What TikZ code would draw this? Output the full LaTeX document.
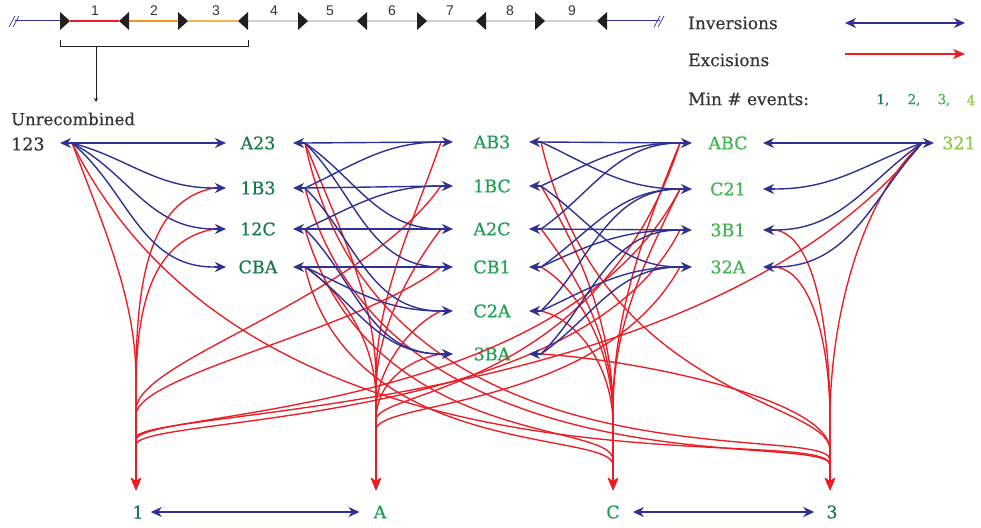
\documentclass[tikz,border=0pt]{standalone}
\usepackage{fontspec}
\setmainfont{DejaVu Serif}
\newfontfamily\labfont[FakeBold=0.35]{DejaVu Serif}
\newfontfamily\stripfont{Liberation Sans}
\usetikzlibrary{arrows.meta}
\definecolor{invblue}{HTML}{2E3192}
\definecolor{excred}{HTML}{ED1C24}
\definecolor{gA}{HTML}{16794A}
\definecolor{gB}{HTML}{1E9E52}
\definecolor{gC}{HTML}{3DB54A}
\definecolor{gD}{HTML}{8DC63F}
\definecolor{ink}{HTML}{333333}
\definecolor{segone}{HTML}{ED1C24}
\definecolor{segtwo}{HTML}{F7941D}
\definecolor{segthree}{HTML}{FBB040}
\definecolor{seggray}{HTML}{D0D0D0}
\definecolor{sitecol}{HTML}{231F20}
\newcommand\mk[7]{%
  \node[lab,text=#5] (#1) at (#2,#3) {#4};
  \coordinate (#1w) at (#6,#3);
  \coordinate (#1wb) at (#6-12,#3);
  \coordinate (#1e) at (#7,#3);
  \coordinate (#1eb) at (#7+12,#3);}
\newcommand\rsite[1]{\fill[sitecol] (#1,12) -- (#1+10,21) -- (#1,30) -- cycle;}
\newcommand\lsite[1]{\fill[sitecol] (#1+10,12) -- (#1,21) -- (#1+10,30) -- cycle;}
% excision: start, c1, x of target, y of c2, y of stem start, target
\newcommand\exc[6]{\draw[ex] (#1) .. controls (#2) and (#3,#4) .. (#3,#5) -- (#6);}
\begin{document}
\begin{tikzpicture}[x=1pt,y=-1pt,
  lab/.style={font=\labfont\fontsize{17.5}{19}\selectfont, inner sep=0pt},
  txt/.style={font=\labfont\fontsize{16.5}{18}\selectfont, inner sep=0pt, text=ink},
  num/.style={font=\stripfont\fontsize{14}{15}\selectfont, inner sep=0pt, text=ink},
  iv/.style={draw=invblue, line width=1.4pt},
  ivtip/.style={draw=invblue, line width=1.4pt, -{Stealth[length=11pt,width=10pt,inset=3.5pt]}},
  ivboth/.style={draw=invblue, line width=1.4pt, {Stealth[length=11pt,width=10pt,inset=3.5pt]}-{Stealth[length=11pt,width=10pt,inset=3.5pt]}},
  ex/.style={draw=excred, line width=1.35pt, -{Stealth[length=12pt,width=10pt,inset=3.5pt]}},
  seg/.style={line width=1.2pt}]
\useasboundingbox (0,0) rectangle (981,527);

% ---------- top strip ----------
\draw[invblue, line width=1pt] (15,21) -- (60,21);
\draw[invblue, line width=0.7pt] (9,27) -- (15,16) (13,27) -- (19,16);
\draw[seg, segone] (70,21) -- (119,21);
\draw[seg, segtwo] (129,21) -- (178,21);
\draw[seg, segthree] (188,21) -- (238,21);
\draw[seg, seggray] (248,21) -- (597,21);
\draw[invblue, line width=1pt] (607,21) -- (660,21);
\draw[invblue, line width=0.7pt] (654,27) -- (660,16) (658,27) -- (664,16);
\rsite{60}\lsite{119}\rsite{178}\lsite{238}\rsite{298}
\lsite{357}\rsite{417}\lsite{476}\rsite{535}\lsite{597}
\node[num] at (95,11) {1};
\node[num] at (154,11) {2};
\node[num] at (216,11) {3};
\node[num] at (274,11) {4};
\node[num] at (330,11) {5};
\node[num] at (392,11) {6};
\node[num] at (450,11) {7};
\node[num] at (510,11) {8};
\node[num] at (572,11) {9};
\draw[sitecol, line width=1pt] (60,40) -- (60,47) -- (248,47) -- (248,40);
\coordinate (brk) at (96,47);
\coordinate (brkend) at (96,102);
\draw[sitecol, line width=0.8pt, -{Stealth[length=4pt,width=4pt]}] (brk) -- (brkend);

% ---------- legend ----------
\node[txt, anchor=west, font=\labfont\fontsize{17}{18}\selectfont] (lginv) at (688,23) {Inversions};
\node[txt, anchor=west, font=\labfont\fontsize{17}{18}\selectfont] (lgexc) at (688,60) {Excisions};
\node[txt, anchor=west, font=\labfont\fontsize{17}{18}\selectfont] (lgmin) at (688,99) {Min \# events:};
\coordinate (lgia) at (845,23); \coordinate (lgib) at (965,23);
\coordinate (lgea) at (845,54); \coordinate (lgeb) at (965,54);
\draw[ivboth] (lgia) -- (lgib);
\draw[ex] (lgea) -- (lgeb);
\node[inner sep=0pt, font=\labfont\fontsize{13.5}{15}\selectfont, text=gA] (lg1) at (883,100) {1,};
\node[inner sep=0pt, font=\labfont\fontsize{13.5}{15}\selectfont, text=gB] (lg2) at (914,100) {2,};
\node[inner sep=0pt, font=\labfont\fontsize{13.5}{15}\selectfont, text=gC] (lg3) at (944,100) {3,};
\node[inner sep=0pt, font=\labfont\fontsize{13.5}{15}\selectfont, text=gD] (lg4) at (971,100) {4};

% ---------- nodes ----------
\node[txt, anchor=west] (unrec) at (11,119) {Unrecombined};
\node[txt, anchor=west, font=\labfont\fontsize{17.5}{19}\selectfont] (n123) at (11,144) {123};
\coordinate (n123t) at (60,143);
\coordinate (n123b) at (72,143);

\mk{nA23}{258}{143}{A23}{gA}{226}{293}
\mk{n1B3}{258}{188}{1B3}{gA}{226}{293}
\mk{n12C}{258}{229}{12C}{gA}{226}{293}
\mk{nCBA}{258}{267}{CBA}{gA}{226}{293}

\mk{nAB3}{492}{142}{AB3}{gB}{453}{529}
\mk{n1BC}{492}{186}{1BC}{gB}{453}{529}
\mk{nA2C}{492}{229}{A2C}{gB}{453}{529}
\mk{nCB1}{492}{267}{CB1}{gB}{453}{529}
\mk{nC2A}{492}{311}{C2A}{gB}{453}{529}
\mk{n3BA}{492}{354}{3BA}{gB}{453}{529}

\mk{nABC}{728}{143}{ABC}{gC}{692}{763}
\mk{nC21}{728}{189}{C21}{gC}{692}{763}
\mk{n3B1}{728}{230}{3B1}{gC}{692}{763}
\mk{n32A}{728}{267}{32A}{gC}{692}{763}

\node[lab, text=gD] (n321) at (959,143) {321};
\coordinate (n321t) at (934,143);
\coordinate (n321b) at (922,143);

\node[lab, text=gA] (n1) at (138,512) {1};
\node[lab, text=gB] (nA) at (380,512) {A};
\node[lab, text=gB] (nC) at (613,512) {C};
\node[lab, text=gA] (n3) at (832,512) {3};
\coordinate (t1) at (136,490);
\coordinate (tA) at (376,490);
\coordinate (tC) at (613,490);
\coordinate (t3) at (830,490);

% ---------- excisions ----------
% into 1
\exc{n123b}{105,230}{136}{300}{380}{t1}
\exc{n1B3wb}{150,200}{136}{280}{380}{t1}
\exc{n12Cwb}{155,240}{136}{300}{390}{t1}
\exc{n1BCwb}{360,300}{136}{360}{410}{t1}
\exc{nCB1wb}{360,330}{136}{375}{415}{t1}
\exc{nC21wb}{560,420}{136}{410}{440}{t1}
\exc{n3B1wb}{580,430}{136}{415}{445}{t1}
\exc{n321b}{700,420}{136}{408}{438}{t1}
% into A
\exc{nA23eb}{340,230}{376}{300}{380}{tA}
\exc{nCBAeb}{340,290}{376}{340}{400}{tA}
\exc{nAB3wb}{410,230}{376}{300}{380}{tA}
\exc{nA2Cwb}{410,270}{376}{330}{390}{tA}
\exc{nC2Awb}{410,325}{376}{370}{410}{tA}
\exc{n3BAwb}{405,360}{376}{385}{420}{tA}
\exc{nABCwb}{600,390}{376}{390}{420}{tA}
\exc{n32Awb}{600,410}{376}{400}{430}{tA}
% into C
\exc{n12Ceb}{370,450}{613}{420}{460}{tC}
\exc{nCBAeb}{350,460}{613}{430}{465}{tC}
\exc{n1BCeb}{580,250}{613}{330}{410}{tC}
\exc{nA2Ceb}{580,280}{613}{340}{415}{tC}
\exc{nCB1eb}{580,290}{613}{350}{420}{tC}
\exc{nC2Aeb}{580,320}{613}{370}{425}{tC}
\exc{nABCwb}{640,240}{613}{320}{410}{tC}
\exc{nC21wb}{640,270}{613}{330}{410}{tC}
% into 3
\exc{n123b}{260,520}{830}{420}{465}{t3}
\exc{nA23eb}{380,500}{830}{420}{460}{t3}
\exc{n1B3eb}{390,500}{830}{430}{465}{t3}
\exc{nAB3eb}{600,400}{830}{400}{450}{t3}
\exc{n3BAeb}{640,360}{830}{400}{450}{t3}
\exc{n3B1eb}{815,235}{830}{330}{420}{t3}
\exc{n32Aeb}{810,270}{830}{340}{420}{t3}
\exc{n321b}{860,200}{830}{320}{420}{t3}

% ---------- inversions ----------
\draw[iv] (n123b) -- (nA23wb);
\draw[iv] (n123b) to[out=-15,in=180] (n1B3wb);
\draw[iv] (n123b) to[out=-28,in=180] (n12Cwb);
\draw[iv] (n123b) to[out=-40,in=180] (nCBAwb);

\draw[iv] (nA23eb) -- (nAB3wb);
\draw[iv] (nA23eb) to[out=-35,in=180] (nA2Cwb);
\draw[iv] (nA23eb) to[out=-45,in=180] (nCB1wb);
\draw[iv] (n1B3eb) to[out=25,in=180] (nAB3wb);
\draw[iv] (n1B3eb) -- (n1BCwb);
\draw[iv] (n1B3eb) to[out=-45,in=180] (nC2Awb);
\draw[iv] (n12Ceb) -- (nA2Cwb);
\draw[iv] (n12Ceb) to[out=25,in=180] (n1BCwb);
\draw[iv] (n12Ceb) to[out=-45,in=180] (n3BAwb);
\draw[iv] (nCBAeb) -- (nCB1wb);
\draw[iv] (nCBAeb) to[out=-25,in=180] (nC2Awb);
\draw[iv] (nCBAeb) to[out=-35,in=180] (n3BAwb);

\draw[iv] (nAB3eb) -- (nABCwb);
\draw[iv] (nAB3eb) to[out=-25,in=180] (nC21wb);
\draw[iv] (n1BCeb) to[out=25,in=180] (nABCwb);
\draw[iv] (n1BCeb) to[out=-35,in=180] (n32Awb);
\draw[iv] (nA2Ceb) to[out=35,in=180] (nABCwb);
\draw[iv] (nA2Ceb) -- (n3B1wb);
\draw[iv] (nCB1eb) to[out=35,in=180] (nC21wb);
\draw[iv] (nCB1eb) to[out=25,in=180] (n3B1wb);
\draw[iv] (nC2Aeb) to[out=45,in=180] (nC21wb);
\draw[iv] (nC2Aeb) to[out=25,in=180] (n32Awb);
\draw[iv] (n3BAeb) to[out=35,in=180] (n32Awb);
\draw[iv] (n3BAeb) to[out=45,in=180] (n3B1wb);

\draw[iv] (n321b) -- (nABCeb);
\draw[iv] (n321b) to[out=200,in=0] (nC21eb);
\draw[iv] (n321b) to[out=215,in=0] (n3B1eb);
\draw[iv] (n321b) to[out=228,in=0] (n32Aeb);

% arrowheads at the nodes
\draw[ivtip] (n123b) -- (n123t);
\draw[ivtip] (n321b) -- (n321t);
\foreach \n in {nA23,n1B3,n12C,nCBA,nAB3,n1BC,nA2C,nCB1,nC2A,n3BA,nABC,nC21,n3B1,n32A}{
  \draw[ivtip] (\n wb) -- (\n w);
  \draw[ivtip] (\n eb) -- (\n e);
}

% bottom inversions
\draw[ivboth] ([xshift=7pt]n1.east) -- ([xshift=-14pt]nA.west);
\draw[ivboth] ([xshift=13pt]nC.east) -- ([xshift=-12pt]n3.west);
\end{tikzpicture}
\end{document}
